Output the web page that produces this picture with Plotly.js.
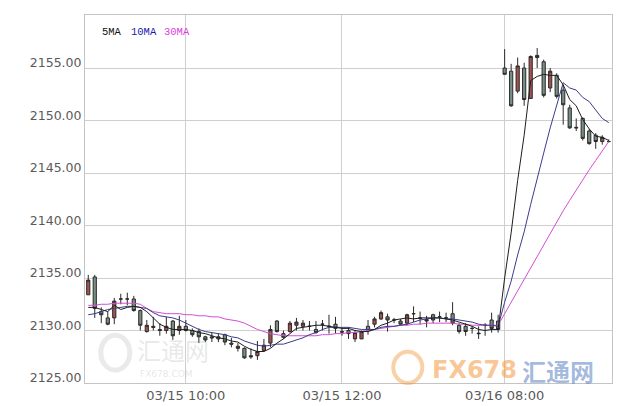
<!DOCTYPE html>
<html>
<head>
<meta charset="utf-8">
<script src="https://cdn.plot.ly/plotly-3.0.1.min.js"></script>
<style>html,body{margin:0;padding:0;background:#fff;}#chart{width:617px;height:406px;}</style>
</head>
<body>
<div id="chart"></div>
<script>
const times = [
'03/15 08:45','03/15 08:50','03/15 08:55','03/15 09:00','03/15 09:05','03/15 09:10','03/15 09:15','03/15 09:20','03/15 09:25','03/15 09:30',
'03/15 09:35','03/15 09:40','03/15 09:45','03/15 09:50','03/15 09:55','03/15 10:00','03/15 10:05','03/15 10:10','03/15 10:15','03/15 10:20',
'03/15 10:25','03/15 10:30','03/15 10:35','03/15 10:40','03/15 10:45','03/15 10:50','03/15 10:55','03/15 11:00','03/15 11:05','03/15 11:10',
'03/15 11:15','03/15 11:20','03/15 11:25','03/15 11:30','03/15 11:35','03/15 11:40','03/15 11:45','03/15 11:50','03/15 11:55','03/15 12:00',
'03/15 12:05','03/15 12:10','03/15 12:15','03/15 12:20','03/15 12:25','03/15 12:30','03/15 12:35','03/15 12:40','03/15 12:45','03/15 12:50',
'03/15 12:55','03/15 13:00','03/15 13:05','03/15 13:10','03/15 13:15','03/15 13:20','03/15 13:25','03/15 13:30','03/15 13:35','03/15 13:40',
'03/15 13:45','03/15 13:50','03/15 13:55','03/15 14:00',
'03/16 08:00','03/16 08:05','03/16 08:10','03/16 08:15','03/16 08:20','03/16 08:25','03/16 08:30','03/16 08:35','03/16 08:40','03/16 08:45',
'03/16 08:50','03/16 08:55','03/16 09:00','03/16 09:05','03/16 09:10','03/16 09:15','03/16 09:20'
];
const open = [
2133.4,2135.1,2131.8,2131.2,2131.2,2133.0,2133.0,2133.0,2131.9,2129.9,
2130.4,2130.1,2130.0,2130.9,2130.0,2130.4,2130.0,2129.9,2129.4,2129.4,
2129.4,2129.6,2128.8,2128.3,2128.3,2127.6,2127.6,2128.1,2128.8,2130.9,
2129.7,2129.9,2130.5,2130.4,2130.4,2130.1,2130.6,2130.4,2130.6,2129.9,
2130.0,2129.2,2129.2,2130.4,2130.6,2131.1,2131.3,2131.0,2130.9,2130.7,
2131.6,2131.2,2131.05,2131.5,2131.3,2131.2,2131.6,2130.5,2130.4,2130.2,
2129.75,2130.5,2131.0,2130.9,
2155.0,2154.7,2152.8,2155.0,2152.1,2156.0,2155.6,2153.1,2154.3,2152.9,
2151.2,2149.35,2150.2,2149.0,2148.6,2148.0,2148.0
];
const high = [
2135.3,2135.3,2132.2,2131.8,2133.1,2133.5,2133.6,2133.3,2132.0,2131.0,
2131.3,2130.7,2131.3,2131.0,2131.4,2131.0,2130.2,2130.2,2129.5,2129.8,
2129.7,2129.7,2129.3,2128.8,2128.4,2128.3,2129.0,2129.2,2130.5,2131.0,
2130.0,2130.9,2131.2,2131.0,2130.9,2130.9,2131.0,2131.5,2131.3,2130.3,
2130.3,2130.0,2130.0,2131.0,2131.3,2131.9,2131.6,2131.2,2131.1,2131.6,
2132.3,2131.8,2131.4,2131.6,2131.8,2131.7,2132.7,2130.7,2130.7,2130.4,
2130.4,2130.7,2131.7,2131.5,
2156.8,2155.4,2156.0,2155.5,2156.2,2156.9,2155.8,2155.0,2154.5,2153.4,
2151.5,2150.2,2150.3,2149.2,2148.8,2148.6,2148.2
];
const low = [
2133.4,2131.2,2130.7,2130.5,2130.6,2132.5,2132.4,2131.8,2130.0,2129.8,
2130.0,2129.5,2129.7,2129.1,2129.6,2129.9,2129.4,2128.8,2128.9,2128.9,
2128.9,2128.6,2128.4,2128.0,2127.3,2127.3,2127.2,2128.0,2128.4,2129.8,
2129.2,2129.8,2130.0,2130.0,2130.0,2129.7,2130.0,2129.7,2129.7,2129.5,
2129.2,2128.9,2129.2,2129.6,2130.3,2131.0,2129.9,2130.7,2130.5,2130.5,
2130.8,2130.6,2130.3,2130.7,2130.8,2130.8,2130.5,2129.7,2129.5,2129.7,
2129.2,2129.5,2129.8,2129.8,
2154.4,2151.3,2152.6,2151.4,2152.1,2155.0,2152.2,2152.7,2152.1,2149.6,
2149.2,2149.0,2148.1,2147.7,2147.3,2147.7,2147.9
];
const close = [
2134.8,2132.1,2131.5,2130.6,2132.8,2133.0,2133.0,2131.9,2130.5,2130.5,
2130.3,2130.0,2130.4,2129.5,2130.4,2130.0,2129.6,2129.4,2129.1,2129.3,
2129.2,2128.9,2128.7,2128.5,2127.4,2127.5,2128.0,2128.6,2130.1,2129.9,
2129.35,2130.7,2130.8,2130.7,2130.4,2129.8,2130.6,2130.4,2130.2,2129.85,
2129.7,2129.8,2129.9,2130.0,2131.1,2131.7,2131.0,2131.0,2130.6,2131.5,
2131.6,2131.15,2130.9,2131.0,2131.3,2131.2,2130.7,2129.9,2129.9,2130.2,
2129.7,2130.5,2130.2,2130.1,
2154.4,2151.4,2155.2,2152.0,2156.1,2156.2,2152.4,2154.7,2152.3,2151.5,
2149.3,2149.3,2148.3,2147.8,2148.0,2148.4,2148.0
];
const ma5 = [
2132.2,2132.2,2132.0,2131.8,2132.4,2132.0,2132.2,2132.3,2132.2,2131.8,
2131.2,2130.6,2130.3,2130.1,2130.1,2130.1,2130.0,2129.8,2129.7,2129.5,
2129.3,2129.2,2129.0,2128.9,2128.5,2128.2,2128.0,2128.0,2128.3,2128.8,
2129.2,2129.7,2130.2,2130.3,2130.4,2130.5,2130.5,2130.4,2130.3,2130.2,
2130.2,2130.0,2129.9,2129.9,2130.1,2130.5,2130.7,2131.0,2131.1,2131.2,
2131.1,2131.2,2131.2,2131.2,2131.2,2131.1,2131.0,2130.8,2130.6,2130.4,
2130.1,2130.0,2130.1,2130.1,
2135.0,2139.3,2144.3,2148.6,2153.8,2154.2,2154.4,2154.3,2154.3,2153.4,
2152.0,2151.4,2150.1,2149.2,2148.5,2148.4,2148.1
];
const ma10 = [
2131.5,2131.6,2131.8,2132.0,2132.1,2132.2,2132.3,2132.3,2132.2,2132.1,
2131.7,2131.4,2131.3,2131.2,2131.0,2130.7,2130.4,2130.1,2129.9,2129.8,
2129.7,2129.6,2129.4,2129.3,2129.0,2128.8,2128.6,2128.5,2128.6,2128.7,
2128.7,2128.9,2129.1,2129.3,2129.6,2129.8,2130.1,2130.3,2130.3,2130.3,
2130.3,2130.2,2130.1,2130.1,2130.1,2130.3,2130.4,2130.4,2130.5,2130.6,
2130.8,2131.0,2131.1,2131.2,2131.2,2131.1,2131.1,2131.0,2130.9,2130.8,
2130.6,2130.5,2130.5,2130.4,
2132.7,2134.7,2137.2,2139.4,2142.0,2144.6,2146.9,2149.3,2151.5,2153.6,
2153.1,2152.9,2152.2,2151.8,2151.0,2150.2,2149.8
];
const ma30 = [
2132.4,2132.4,2132.5,2132.5,2132.6,2132.6,2132.6,2132.6,2132.5,2132.1,
2131.8,2131.7,2131.6,2131.6,2131.6,2131.5,2131.5,2131.4,2131.4,2131.3,
2131.3,2131.1,2131.0,2130.9,2130.7,2130.4,2130.1,2129.9,2129.7,2129.6,
2129.5,2129.5,2129.5,2129.5,2129.5,2129.5,2129.6,2129.6,2129.7,2129.7,
2129.8,2129.8,2129.9,2130.0,2130.1,2130.2,2130.3,2130.4,2130.5,2130.5,
2130.6,2130.6,2130.7,2130.7,2130.7,2130.7,2130.7,2130.6,2130.6,2130.5,
2130.5,2130.5,2130.5,2130.5,
2131.6,2132.7,2133.8,2134.9,2136.0,2137.1,2138.2,2139.3,2140.4,2141.4,
2142.4,2143.4,2144.4,2145.3,2146.2,2147.1,2148.0
];
const xTicks = ['03/15 10:00','03/15 12:00','03/16 08:00'];
const yTicks = [2125,2130,2135,2140,2145,2150,2155];
const yTickText = ['2125.00','2130.00','2135.00','2140.00','2145.00','2150.00','2155.00'];
const maNames = ['5MA','10MA','30MA'];

const lineStyle = (c) => ({color: c, width: 1});
const traces = [
  {type:'scatter', mode:'lines', x: times, y: ma30, line: lineStyle('#d24fd2'), hoverinfo:'skip'},
  {type:'scatter', mode:'lines', x: times, y: ma10, line: lineStyle('#3c3c8c'), hoverinfo:'skip'},
  {type:'scatter', mode:'lines', x: times, y: ma5, line: lineStyle('#1e1e1e'), hoverinfo:'skip'},
  {type:'candlestick', x: times, open: open, high: high, low: low, close: close,
   increasing: {fillcolor:'#a5524f', line:{color:'#2a2a2a', width:1}},
   decreasing: {fillcolor:'#7a8f83', line:{color:'#2a2a2a', width:1}},
   whiskerwidth: 0}
];

const axisFont = {family:'DejaVu Sans', size:12.5, color:'#5a5a5a'};
const layout = {
  width: 617, height: 406,
  margin: {l:85, r:5, t:15, b:23, pad:0},
  paper_bgcolor:'#fff', plot_bgcolor:'#fff',
  showlegend:false,
  xaxis: {
    type:'category', range:[-0.5, 80.5], rangeslider:{visible:false},
    tickmode:'array', tickvals:xTicks, ticktext:xTicks,
    showgrid:true, gridcolor:'#cfcfcf', gridwidth:1,
    showline:true, mirror:true, linecolor:'#c4c4c4', linewidth:1,
    ticks:'', tickfont:{family:'DejaVu Sans', size:13, color:'#5a5a5a'},
    zeroline:false, fixedrange:true
  },
  yaxis: {
    range:[2125, 2160.05],
    tickmode:'array', tickvals:yTicks, ticktext:yTickText,
    showgrid:true, gridcolor:'#cfcfcf', gridwidth:1,
    showline:true, mirror:true, linecolor:'#c4c4c4', linewidth:1,
    ticks:'', tickfont:axisFont, ticklabelshift:-5, ticklabelstandoff:0,
    zeroline:false, fixedrange:true
  },
  annotations: [
    {xref:'paper', yref:'paper', x:0.0285, y:0.954, xanchor:'left', yanchor:'middle', showarrow:false,
     text:maNames[0], font:{family:'Liberation Mono', size:10.5, color:'#111'}},
    {xref:'paper', yref:'paper', x:0.0835, y:0.954, xanchor:'left', yanchor:'middle', showarrow:false,
     text:maNames[1], font:{family:'Liberation Mono', size:10.5, color:'#1a1ab0'}},
    {xref:'paper', yref:'paper', x:0.146, y:0.954, xanchor:'left', yanchor:'middle', showarrow:false,
     text:maNames[2], font:{family:'Liberation Mono', size:10.5, color:'#e03ce0'}},
    {xref:'paper', yref:'paper', x:0.095, y:0.09, xanchor:'left', yanchor:'middle', showarrow:false,
     text:'汇通网', font:{family:'Noto Sans CJK SC', size:24, color:'rgba(150,150,150,0.22)'}},
    {xref:'paper', yref:'paper', x:0.1, y:0.025, xanchor:'left', yanchor:'middle', showarrow:false,
     text:'FX678.COM', font:{family:'DejaVu Sans', size:9, color:'rgba(150,150,150,0.25)'}},
    {xref:'paper', yref:'paper', x:0.655, y:0.035, xanchor:'left', yanchor:'middle', showarrow:false,
     text:'<b>FX678</b>', font:{family:'DejaVu Sans', size:24, color:'rgba(245,150,60,0.55)'}},
    {xref:'paper', yref:'paper', x:0.826, y:0.035, xanchor:'left', yanchor:'middle', showarrow:false,
     text:'<b>汇通网</b>', font:{family:'Noto Sans CJK SC', size:24, color:'rgba(50,100,180,0.45)'}}
  ],
  shapes: [
    {type:'circle', xref:'paper', yref:'paper', x0:0.585, x1:0.64, y0:0.0, y1:0.085,
     line:{color:'rgba(245,150,60,0.45)', width:4}},
    {type:'circle', xref:'paper', yref:'paper', x0:0.03, x1:0.085, y0:0.035, y1:0.13,
     line:{color:'rgba(150,150,150,0.2)', width:5}}
  ]
};
Plotly.newPlot('chart', traces, layout, {staticPlot:true, displayModeBar:false});
</script>
</body>
</html>
